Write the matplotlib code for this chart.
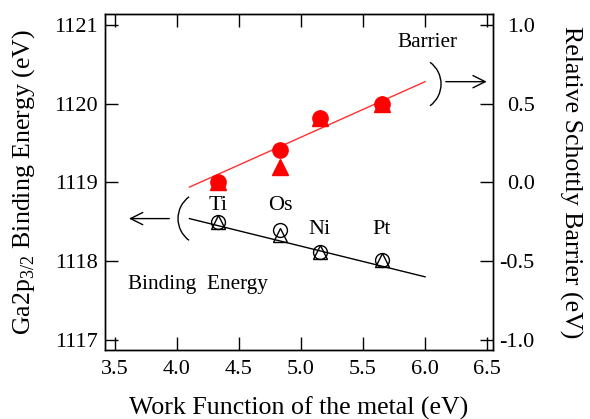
import matplotlib
matplotlib.use("Agg")
import matplotlib.pyplot as plt
from matplotlib.patches import Arc

plt.rcParams['font.family'] = ['Liberation Serif', 'DejaVu Serif']
plt.rcParams['axes.unicode_minus'] = False
plt.rcParams['mathtext.fontset'] = 'custom'
plt.rcParams['mathtext.rm'] = 'Liberation Serif'

# Data
metals = ["Ti", "Os", "Ni", "Pt"]
work_function = [4.33, 4.83, 5.15, 5.65]
# Ga2p3/2 binding energy (eV), left axis
be_circle = [1118.50, 1118.40, 1118.12, 1118.02]
be_triangle = [1118.50, 1118.33, 1118.12, 1118.02]
# Relative Schottky barrier (eV), right axis
sb_circle = [0.0, 0.205, 0.41, 0.5]
sb_triangle = [0.0, 0.10, 0.41, 0.5]
# fitted lines
fit_x = [4.1, 6.0]
be_fit = [1118.54, 1117.80]
sb_fit = [-0.03, 0.64]

xticks = [3.5, 4.0, 4.5, 5.0, 5.5, 6.0, 6.5]
yticks_left = [1117, 1118, 1119, 1120, 1121]
yticks_right = [-1.0, -0.5, 0.0, 0.5, 1.0]

fig = plt.figure(figsize=(5.9, 4.19), dpi=100)
ax = fig.add_axes([105/590, 1-350/419, 388/590, 336/419])
ylo, yhi = 1116.87, 1121.14
ax.set_xlim(3.419, 6.548)
ax.set_ylim(ylo, yhi)
ax2 = ax.twinx()
ax2.set_ylim((ylo-1119)/2, (yhi-1119)/2)

fs = 16
ax.set_xticks(xticks)
ax.set_xticklabels([f"{v:.1f}" for v in xticks])
ax.set_yticks(yticks_left)
ax.set_yticklabels([str(v) for v in yticks_left])
ax2.set_yticks(yticks_right)
ax2.set_yticklabels([f"{v:.1f}" for v in yticks_right])

ax.tick_params(axis='x', direction='in', length=9.5, width=1, top=True, labelsize=fs, pad=7)
ax.tick_params(axis='y', direction='in', length=9.5, width=1, left=True, right=False, labelsize=fs, pad=5)
ax2.tick_params(axis='y', direction='in', length=9.5, width=1, labelsize=fs, pad=30)
for lab in ax2.get_yticklabels():
    lab.set_ha('right')
for sp in list(ax.spines.values()) + list(ax2.spines.values()):
    sp.set_linewidth(1.0)

# lines
ax.plot(fit_x, be_fit, color='black', lw=1.0)
ax2.plot(fit_x, sb_fit, color='#ff3030', lw=1.0)

# black open markers
ax.plot(work_function, be_circle, 'o', mfc='none', mec='black', ms=10, mew=1.0)
ax.plot(work_function, be_triangle, '^', mfc='none', mec='black', ms=10, mew=1.0)
# red filled markers
ax2.plot(work_function, sb_circle, 'o', color='red', ms=11)
ax2.plot(work_function, sb_triangle, '^', color='red', ms=11)

# labels
lfs = 18.6
ax.set_xlabel("Work Function of the metal (eV)", fontsize=lfs)
ax.xaxis.set_label_coords(0.5, -0.173)
ax.xaxis.label.set_va('center')
ax.set_ylabel("Ga2p$_{3/2}$ Binding Energy (eV)", fontsize=lfs)
ax.yaxis.set_label_coords(-0.21, 0.5)
ax.yaxis.label.set_va('center')
ax2.set_ylabel("Relative Schottly Barrier (eV)", fontsize=lfs, rotation=-90)
ax2.yaxis.set_label_coords(1.201, 0.5)
ax2.yaxis.label.set_va('center')

# metal labels
lab_y = [1118.71, 1118.71, 1118.40, 1118.40]
for m, x, y in zip(metals, work_function, lab_y):
    ax.text(x, y, m, fontsize=16, ha='center', va='center')

ax.text(3.605, 1117.70, "Binding  Energy", fontsize=15.3, ha='left', va='center')
ax.text(5.78, 1120.78, "Barrier", fontsize=15.3, ha='left', va='center')

# brackets and arrows
ax.add_patch(Arc((4.226, 1118.54), 2*0.218, 2*0.343, theta1=115, theta2=245, color='black', lw=1.0))
ax.add_patch(Arc((5.911, 1120.25), 2*0.218, 2*0.343, theta1=-65, theta2=65, color='black', lw=1.0))
ax.annotate("", xy=(3.59, 1118.54), xytext=(3.96, 1118.54),
            arrowprops=dict(arrowstyle='->', color='black', lw=1.0, mutation_scale=22))
ax.annotate("", xy=(6.52, 1120.28), xytext=(6.145, 1120.28),
            arrowprops=dict(arrowstyle='->', color='black', lw=1.0, mutation_scale=22),
            annotation_clip=False)

fig.savefig("out.png", dpi=100)
